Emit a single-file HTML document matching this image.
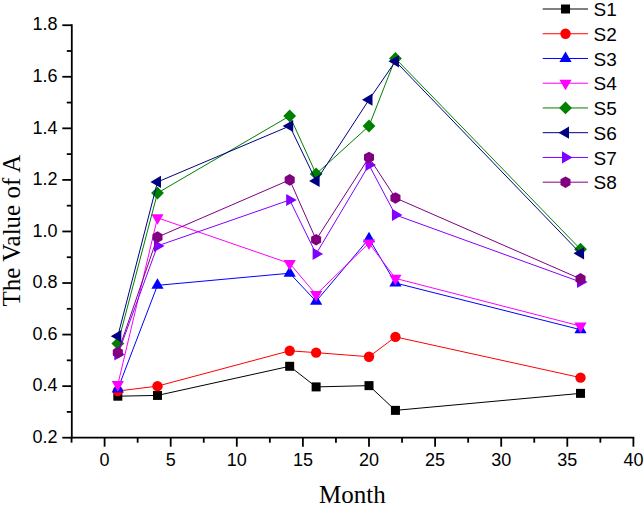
<!DOCTYPE html>
<html><head><meta charset="utf-8"><style>
html,body{margin:0;padding:0;background:#fff;}
svg{display:block;}
</style></head><body>
<svg width="644" height="505" viewBox="0 0 644 505">
<g stroke="#000" stroke-width="1.8" fill="none">
<line x1="71.8" y1="24.32" x2="71.8" y2="438.60"/>
<line x1="70.89999999999999" y1="437.7" x2="634.30" y2="437.7"/>
<line x1="62.30" y1="437.70" x2="71.8" y2="437.70"/>
<line x1="66.80" y1="411.92" x2="71.8" y2="411.92"/>
<line x1="62.30" y1="386.14" x2="71.8" y2="386.14"/>
<line x1="66.80" y1="360.36" x2="71.8" y2="360.36"/>
<line x1="62.30" y1="334.58" x2="71.8" y2="334.58"/>
<line x1="66.80" y1="308.80" x2="71.8" y2="308.80"/>
<line x1="62.30" y1="283.02" x2="71.8" y2="283.02"/>
<line x1="66.80" y1="257.24" x2="71.8" y2="257.24"/>
<line x1="62.30" y1="231.46" x2="71.8" y2="231.46"/>
<line x1="66.80" y1="205.68" x2="71.8" y2="205.68"/>
<line x1="62.30" y1="179.90" x2="71.8" y2="179.90"/>
<line x1="66.80" y1="154.12" x2="71.8" y2="154.12"/>
<line x1="62.30" y1="128.34" x2="71.8" y2="128.34"/>
<line x1="66.80" y1="102.56" x2="71.8" y2="102.56"/>
<line x1="62.30" y1="76.78" x2="71.8" y2="76.78"/>
<line x1="66.80" y1="51.00" x2="71.8" y2="51.00"/>
<line x1="62.30" y1="25.22" x2="71.8" y2="25.22"/>
<line x1="71.55" y1="437.7" x2="71.55" y2="442.70"/>
<line x1="104.60" y1="437.7" x2="104.60" y2="446.70"/>
<line x1="137.65" y1="437.7" x2="137.65" y2="442.70"/>
<line x1="170.70" y1="437.7" x2="170.70" y2="446.70"/>
<line x1="203.75" y1="437.7" x2="203.75" y2="442.70"/>
<line x1="236.80" y1="437.7" x2="236.80" y2="446.70"/>
<line x1="269.85" y1="437.7" x2="269.85" y2="442.70"/>
<line x1="302.90" y1="437.7" x2="302.90" y2="446.70"/>
<line x1="335.95" y1="437.7" x2="335.95" y2="442.70"/>
<line x1="369.00" y1="437.7" x2="369.00" y2="446.70"/>
<line x1="402.05" y1="437.7" x2="402.05" y2="442.70"/>
<line x1="435.10" y1="437.7" x2="435.10" y2="446.70"/>
<line x1="468.15" y1="437.7" x2="468.15" y2="442.70"/>
<line x1="501.20" y1="437.7" x2="501.20" y2="446.70"/>
<line x1="534.25" y1="437.7" x2="534.25" y2="442.70"/>
<line x1="567.30" y1="437.7" x2="567.30" y2="446.70"/>
<line x1="600.35" y1="437.7" x2="600.35" y2="442.70"/>
<line x1="633.40" y1="437.7" x2="633.40" y2="446.70"/>
</g>
<g font-family="Liberation Sans" font-size="18" fill="#000">
<text x="57.5" y="442.90" text-anchor="end">0.2</text>
<text x="57.5" y="391.34" text-anchor="end">0.4</text>
<text x="57.5" y="339.78" text-anchor="end">0.6</text>
<text x="57.5" y="288.22" text-anchor="end">0.8</text>
<text x="57.5" y="236.66" text-anchor="end">1.0</text>
<text x="57.5" y="185.10" text-anchor="end">1.2</text>
<text x="57.5" y="133.54" text-anchor="end">1.4</text>
<text x="57.5" y="81.98" text-anchor="end">1.6</text>
<text x="57.5" y="30.42" text-anchor="end">1.8</text>
<text x="104.60" y="466" text-anchor="middle">0</text>
<text x="170.70" y="466" text-anchor="middle">5</text>
<text x="236.80" y="466" text-anchor="middle">10</text>
<text x="302.90" y="466" text-anchor="middle">15</text>
<text x="369.00" y="466" text-anchor="middle">20</text>
<text x="435.10" y="466" text-anchor="middle">25</text>
<text x="501.20" y="466" text-anchor="middle">30</text>
<text x="567.30" y="466" text-anchor="middle">35</text>
<text x="633.40" y="466" text-anchor="middle">40</text>
</g>
<text x="352.4" y="503" text-anchor="middle" font-family="Liberation Serif" font-size="25">Month</text>
<text transform="translate(20,230.6) rotate(-90)" text-anchor="middle" font-family="Liberation Serif" font-size="25">The Value of A</text>
<polyline points="117.82,396.19 157.48,395.42 289.68,366.29 316.12,386.91 369.00,385.62 395.44,410.37 580.52,393.36" fill="none" stroke="#000000" stroke-width="1"/>
<rect x="113.32" y="391.69" width="9.0" height="9.0" fill="#000000"/>
<rect x="152.98" y="390.92" width="9.0" height="9.0" fill="#000000"/>
<rect x="285.18" y="361.79" width="9.0" height="9.0" fill="#000000"/>
<rect x="311.62" y="382.41" width="9.0" height="9.0" fill="#000000"/>
<rect x="364.50" y="381.12" width="9.0" height="9.0" fill="#000000"/>
<rect x="390.94" y="405.87" width="9.0" height="9.0" fill="#000000"/>
<rect x="576.02" y="388.86" width="9.0" height="9.0" fill="#000000"/>
<polyline points="117.82,391.04 157.48,386.14 289.68,350.82 316.12,352.63 369.00,356.75 395.44,336.90 580.52,377.63" fill="none" stroke="#ff0000" stroke-width="1"/>
<circle cx="117.82" cy="391.04" r="5.2" fill="#ff0000"/>
<circle cx="157.48" cy="386.14" r="5.2" fill="#ff0000"/>
<circle cx="289.68" cy="350.82" r="5.2" fill="#ff0000"/>
<circle cx="316.12" cy="352.63" r="5.2" fill="#ff0000"/>
<circle cx="369.00" cy="356.75" r="5.2" fill="#ff0000"/>
<circle cx="395.44" cy="336.90" r="5.2" fill="#ff0000"/>
<circle cx="580.52" cy="377.63" r="5.2" fill="#ff0000"/>
<polyline points="117.82,388.98 157.48,285.34 289.68,273.22 316.12,301.32 369.00,238.68 395.44,283.02 580.52,329.68" fill="none" stroke="#0000ff" stroke-width="1"/>
<polygon points="117.82,381.93 111.72,392.50 123.92,392.50" fill="#0000ff"/>
<polygon points="157.48,278.30 151.38,288.86 163.58,288.86" fill="#0000ff"/>
<polygon points="289.68,266.18 283.58,276.75 295.78,276.75" fill="#0000ff"/>
<polygon points="316.12,294.28 310.02,304.85 322.22,304.85" fill="#0000ff"/>
<polygon points="369.00,231.63 362.90,242.20 375.10,242.20" fill="#0000ff"/>
<polygon points="395.44,275.98 389.34,286.54 401.54,286.54" fill="#0000ff"/>
<polygon points="580.52,322.64 574.42,333.20 586.62,333.20" fill="#0000ff"/>
<polyline points="117.82,384.59 157.48,217.80 289.68,263.43 316.12,294.62 369.00,243.06 395.44,278.38 580.52,326.07" fill="none" stroke="#ff00ff" stroke-width="1"/>
<polygon points="117.82,391.64 111.72,381.07 123.92,381.07" fill="#ff00ff"/>
<polygon points="157.48,224.84 151.38,214.27 163.58,214.27" fill="#ff00ff"/>
<polygon points="289.68,270.47 283.58,259.91 295.78,259.91" fill="#ff00ff"/>
<polygon points="316.12,301.66 310.02,291.10 322.22,291.10" fill="#ff00ff"/>
<polygon points="369.00,250.10 362.90,239.54 375.10,239.54" fill="#ff00ff"/>
<polygon points="395.44,285.42 389.34,274.86 401.54,274.86" fill="#ff00ff"/>
<polygon points="580.52,333.12 574.42,322.55 586.62,322.55" fill="#ff00ff"/>
<polyline points="117.82,343.60 157.48,193.05 289.68,115.97 316.12,173.97 369.00,126.02 395.44,58.48 580.52,249.25" fill="none" stroke="#008000" stroke-width="1"/>
<polygon points="117.82,337.20 124.22,343.60 117.82,350.00 111.42,343.60" fill="#008000"/>
<polygon points="157.48,186.65 163.88,193.05 157.48,199.45 151.08,193.05" fill="#008000"/>
<polygon points="289.68,109.57 296.08,115.97 289.68,122.37 283.28,115.97" fill="#008000"/>
<polygon points="316.12,167.57 322.52,173.97 316.12,180.37 309.72,173.97" fill="#008000"/>
<polygon points="369.00,119.62 375.40,126.02 369.00,132.42 362.60,126.02" fill="#008000"/>
<polygon points="395.44,52.08 401.84,58.48 395.44,64.88 389.04,58.48" fill="#008000"/>
<polygon points="580.52,242.85 586.92,249.25 580.52,255.65 574.12,249.25" fill="#008000"/>
<polyline points="117.82,336.13 157.48,181.96 289.68,126.02 316.12,180.93 369.00,99.72 395.44,61.31 580.52,253.37" fill="none" stroke="#000080" stroke-width="1"/>
<polygon points="110.78,336.13 121.34,330.03 121.34,342.23" fill="#000080"/>
<polygon points="150.44,181.96 161.00,175.86 161.00,188.06" fill="#000080"/>
<polygon points="282.64,126.02 293.20,119.92 293.20,132.12" fill="#000080"/>
<polygon points="309.08,180.93 319.64,174.83 319.64,187.03" fill="#000080"/>
<polygon points="361.96,99.72 372.52,93.62 372.52,105.82" fill="#000080"/>
<polygon points="388.40,61.31 398.96,55.21 398.96,67.41" fill="#000080"/>
<polygon points="573.48,253.37 584.04,247.27 584.04,259.47" fill="#000080"/>
<polyline points="117.82,354.43 157.48,245.90 289.68,200.01 316.12,253.89 369.00,164.95 395.44,214.96 580.52,281.99" fill="none" stroke="#8000ff" stroke-width="1"/>
<polygon points="124.86,354.43 114.30,348.33 114.30,360.53" fill="#8000ff"/>
<polygon points="164.52,245.90 153.96,239.80 153.96,252.00" fill="#8000ff"/>
<polygon points="296.72,200.01 286.16,193.91 286.16,206.11" fill="#8000ff"/>
<polygon points="323.16,253.89 312.60,247.79 312.60,259.99" fill="#8000ff"/>
<polygon points="376.04,164.95 365.48,158.85 365.48,171.05" fill="#8000ff"/>
<polygon points="402.48,214.96 391.92,208.86 391.92,221.06" fill="#8000ff"/>
<polygon points="587.56,281.99 577.00,275.89 577.00,288.09" fill="#8000ff"/>
<polyline points="117.82,352.63 157.48,237.13 289.68,179.90 316.12,239.71 369.00,157.47 395.44,197.95 580.52,278.90" fill="none" stroke="#800080" stroke-width="1"/>
<polygon points="117.82,358.43 112.80,355.53 112.80,349.73 117.82,346.83 122.84,349.73 122.84,355.53" fill="#800080"/>
<polygon points="157.48,242.93 152.46,240.03 152.46,234.23 157.48,231.33 162.50,234.23 162.50,240.03" fill="#800080"/>
<polygon points="289.68,185.70 284.66,182.80 284.66,177.00 289.68,174.10 294.70,177.00 294.70,182.80" fill="#800080"/>
<polygon points="316.12,245.51 311.10,242.61 311.10,236.81 316.12,233.91 321.14,236.81 321.14,242.61" fill="#800080"/>
<polygon points="369.00,163.27 363.98,160.37 363.98,154.57 369.00,151.67 374.02,154.57 374.02,160.37" fill="#800080"/>
<polygon points="395.44,203.75 390.42,200.85 390.42,195.05 395.44,192.15 400.46,195.05 400.46,200.85" fill="#800080"/>
<polygon points="580.52,284.70 575.50,281.80 575.50,276.00 580.52,273.10 585.54,276.00 585.54,281.80" fill="#800080"/>
<line x1="542.7" y1="9.00" x2="588" y2="9.00" stroke="#000000" stroke-width="1"/>
<rect x="561.00" y="4.50" width="9.0" height="9.0" fill="#000000"/>
<text x="593.5" y="16.10" font-family="Liberation Sans" font-size="19">S1</text>
<line x1="542.7" y1="33.74" x2="588" y2="33.74" stroke="#ff0000" stroke-width="1"/>
<circle cx="565.50" cy="33.74" r="5.2" fill="#ff0000"/>
<text x="593.5" y="40.84" font-family="Liberation Sans" font-size="19">S2</text>
<line x1="542.7" y1="58.48" x2="588" y2="58.48" stroke="#0000ff" stroke-width="1"/>
<polygon points="565.50,51.44 559.40,62.00 571.60,62.00" fill="#0000ff"/>
<text x="593.5" y="65.58" font-family="Liberation Sans" font-size="19">S3</text>
<line x1="542.7" y1="83.22" x2="588" y2="83.22" stroke="#ff00ff" stroke-width="1"/>
<polygon points="565.50,90.26 559.40,79.70 571.60,79.70" fill="#ff00ff"/>
<text x="593.5" y="90.32" font-family="Liberation Sans" font-size="19">S4</text>
<line x1="542.7" y1="107.96" x2="588" y2="107.96" stroke="#008000" stroke-width="1"/>
<polygon points="565.50,101.56 571.90,107.96 565.50,114.36 559.10,107.96" fill="#008000"/>
<text x="593.5" y="115.06" font-family="Liberation Sans" font-size="19">S5</text>
<line x1="542.7" y1="132.70" x2="588" y2="132.70" stroke="#000080" stroke-width="1"/>
<polygon points="558.46,132.70 569.02,126.60 569.02,138.80" fill="#000080"/>
<text x="593.5" y="139.80" font-family="Liberation Sans" font-size="19">S6</text>
<line x1="542.7" y1="157.44" x2="588" y2="157.44" stroke="#8000ff" stroke-width="1"/>
<polygon points="572.54,157.44 561.98,151.34 561.98,163.54" fill="#8000ff"/>
<text x="593.5" y="164.54" font-family="Liberation Sans" font-size="19">S7</text>
<line x1="542.7" y1="182.18" x2="588" y2="182.18" stroke="#800080" stroke-width="1"/>
<polygon points="565.50,187.98 560.48,185.08 560.48,179.28 565.50,176.38 570.52,179.28 570.52,185.08" fill="#800080"/>
<text x="593.5" y="189.28" font-family="Liberation Sans" font-size="19">S8</text>
</svg>
</body></html>
